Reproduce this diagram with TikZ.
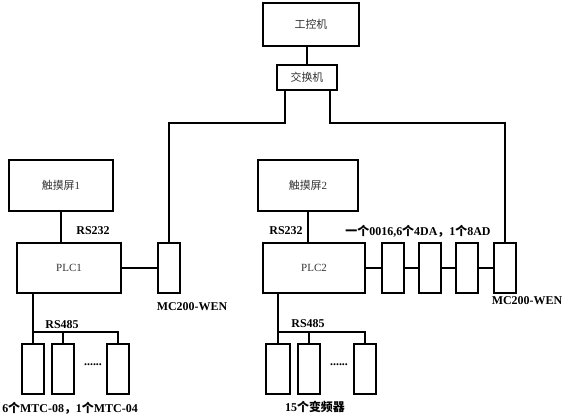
\documentclass[tikz,border=0pt]{standalone}
\usepackage{fontspec}
\setmainfont{Liberation Serif}
\newfontfamily\cjk{Noto Sans CJK SC}
\newcommand{\zh}[1]{{\cjk #1}}
\usepackage{tikz}

\begin{document}
\begin{tikzpicture}[x=1bp,y=1bp,yscale=-1,xscale=1,
	box/.style={draw, line width=1.8bp, inner sep=0pt},
	unit/.style={box, minimum width=22bp, minimum height=50bp},
	boxtext/.style={font=\fontsize{11}{13}\selectfont, text=black!80},
	lbl/.style={font=\fontsize{12}{14}\selectfont\bfseries, inner sep=0.75pt},
	wire/.style={line width=1.8bp}]
				\useasboundingbox (0,0) rectangle (569,416);
				
				%Shape: Rectangle [ipc]
				\node [box, boxtext, minimum width=96bp, minimum height=43bp] (ipc) at (311,24.5) {\zh{工控机}};
				%Shape: Rectangle [switch]
				\node [box, boxtext, minimum width=60bp, minimum height=25bp] (switch) at (307,77.5) {\zh{交换机}};
				%Shape: Rectangle [hmi1]
				\node [box, boxtext, minimum width=104bp, minimum height=51bp] (hmi1) at (61,185.5) {\zh{触摸屏}1};
				%Shape: Rectangle [plc1]
				\node [box, boxtext, minimum width=104bp, minimum height=50bp] (plc1) at (69,268) {PLC1};
				%Shape: Rectangle [mc1]
				\node [unit] (mc1) at (169,268) {};
				%Shape: Rectangle [hmi2]
				\node [box, boxtext, minimum width=100bp, minimum height=51bp] (hmi2) at (308,185.5) {\zh{触摸屏}2};
				%Shape: Rectangle [plc2]
				\node [box, boxtext, minimum width=102bp, minimum height=50bp] (plc2) at (314,268) {PLC2\hspace{14pt}};
				%Shape: Rectangle [io modules]
				\node [unit] (ioa) at (393,268) {};
				\node [unit] (iob) at (430,268) {};
				\node [unit] (ioc) at (467,268) {};
				%Shape: Rectangle [mc2]
				\node [unit] (mc2) at (505,268) {};
				%Shape: Rectangle [temperature controllers]
				\node [unit] (tc1) at (33,369) {};
				\node [unit] (tc2) at (63,369) {};
				\node [unit] (tc3) at (118,369) {};
				%Shape: Rectangle [inverters]
				\node [unit, minimum width=24bp] (vf1) at (278,369) {};
				\node [unit] (vf2) at (309,369) {};
				\node [unit] (vf3) at (365,369) {};
				
				\coordinate (bus1) at (33,332);
				\coordinate (bus2) at (278,332);
				
				%Straight Lines
				\draw [wire] (switch.north) -- (switch.north |- ipc.south);
				\draw [wire] ([xshift=-22bp]switch.south) -- ++(0,32) -| (mc1.north);
				\draw [wire] ([xshift=23bp]switch.south) -- ++(0,32) -| (mc2.north);
				\draw [wire] (hmi1.south) -- (hmi1.south |- plc1.north);
				\draw [wire] (plc1.east) -- (mc1.west);
				\draw [wire] (hmi2.south) -- (hmi2.south |- plc2.north);
				\draw [wire] (plc2.east) -- (ioa.west);
				\draw [wire] (ioa.east) -- (iob.west);
				\draw [wire] (iob.east) -- (ioc.west);
				\draw [wire] (ioc.east) -- (mc2.west);
				%RS485 bus 1
				\draw [wire] (tc1.north) -- (tc1.north |- plc1.south);
				\draw [wire] (bus1) -| (tc3.north);
				\draw [wire] (bus1 -| tc2.north) -- (tc2.north);
				%RS485 bus 2
				\draw [wire] (vf1.north) -- (vf1.north |- plc2.south);
				\draw [wire] (bus2) -| (vf3.north);
				\draw [wire] (bus2 -| vf2.north) -- (vf2.north);
				
				% Text Node
				\node [lbl] (rs232a) at (93,231) {RS232};
				% Text Node
				\node [lbl] (rs232b) at (286,231) {RS232};
				% Text Node
				\node [lbl] (rs485a) at (62,325) {RS485};
				% Text Node
				\node [lbl] (rs485b) at (308,324) {RS485};
				% Text Node
				\node [lbl] (mclbl1) at (192,307) {MC200-WEN};
				% Text Node
				\node [lbl] (mclbl2) at (527,301) {MC200-WEN};
				% Text Node
				\node [lbl] (iolbl) at (418,231) {\zh{一个}0016,6\zh{个}4DA\zh{，}1\zh{个}8AD};
				% Text Node
				\node [lbl] (dots1) at (93,365) {......};
				% Text Node
				\node [lbl] (dots2) at (339,365) {......};
				% Text Node
				\node [lbl] (tclbl) at (70,408) {6\zh{个}MTC-08\zh{，}1\zh{个}MTC-04};
				% Text Node
				\node [lbl] (vflbl) at (315,407) {15\zh{个变频器}};
				
\end{tikzpicture}
\end{document}
